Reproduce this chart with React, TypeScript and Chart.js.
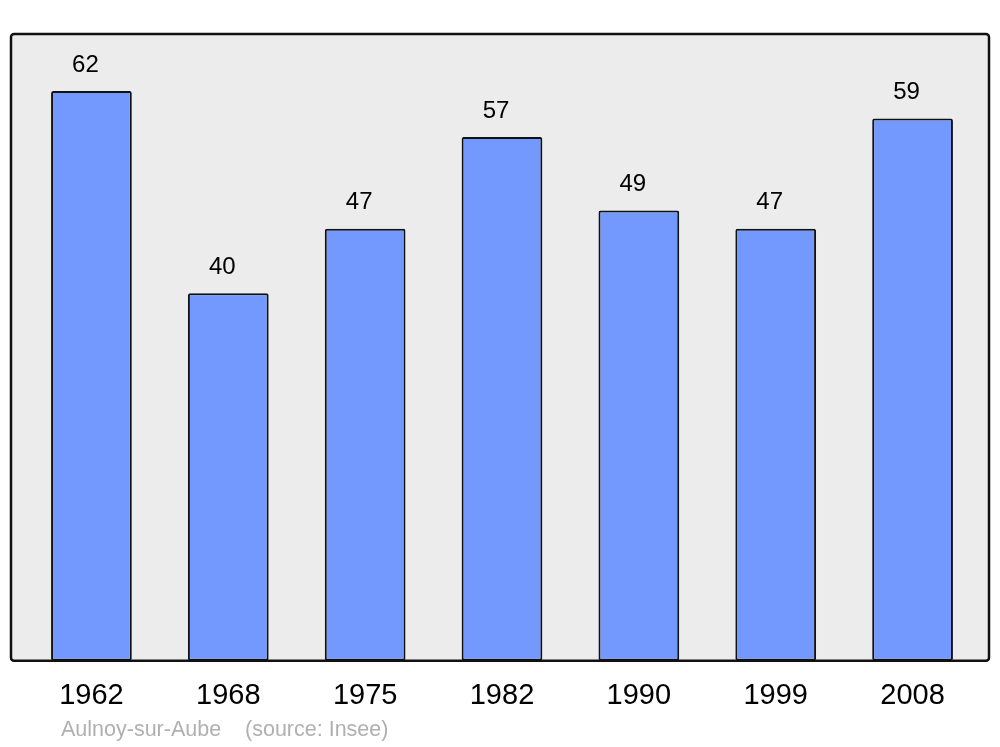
import React, { useEffect, useRef } from "react";
import { Chart, registerables } from "chart.js";

Chart.register(...registerables);

const years: string[] = ["1962", "1968", "1975", "1982", "1990", "1999", "2008"];
const population: number[] = [62, 40, 47, 57, 49, 47, 59];
const footerText = "Aulnoy-sur-Aube    (source: Insee)";

const FONT = "'Liberation Sans', Arial, sans-serif";

const boxPlugin = {
  id: "boxPlugin",
  beforeDatasetsDraw(chart: any) {
    const { ctx, chartArea } = chart;
    const x0 = chartArea.left - 12;
    const x1 = chartArea.right + 8;
    ctx.save();
    ctx.beginPath();
    ctx.roundRect(x0, chartArea.top, x1 - x0, chartArea.bottom - chartArea.top, 3);
    ctx.fillStyle = "#ececec";
    ctx.fill();
    ctx.restore();
  },
  afterDatasetsDraw(chart: any) {
    const { ctx, chartArea } = chart;
    const x0 = chartArea.left - 12;
    const x1 = chartArea.right + 8;
    ctx.save();
    ctx.beginPath();
    ctx.roundRect(x0, chartArea.top, x1 - x0, chartArea.bottom - chartArea.top, 3);
    ctx.strokeStyle = "#111";
    ctx.lineWidth = 2.5;
    ctx.stroke();
    // value labels
    const meta = chart.getDatasetMeta(0);
    ctx.fillStyle = "#000";
    ctx.font = `24px ${FONT}`;
    ctx.textAlign = "center";
    ctx.textBaseline = "middle";
    meta.data.forEach((bar: any, i: number) => {
      ctx.fillText(String(population[i]), bar.x - 6, bar.y - 26);
    });
    // footer
    ctx.fillStyle = "#b0b0b0";
    ctx.font = `21.5px ${FONT}`;
    ctx.textAlign = "left";
    ctx.fillText(footerText, 61, 730);
    ctx.restore();
  },
};

export default function App() {
  const ref = useRef<HTMLCanvasElement | null>(null);
  useEffect(() => {
    if (!ref.current) return;
    const chart = new Chart(ref.current, {
      type: "bar",
      data: {
        labels: years,
        datasets: [
          {
            data: population,
            backgroundColor: "#7399ff",
            borderColor: "#111",
            borderWidth: 2,
            borderRadius: 2,
            borderSkipped: false,
            barPercentage: 0.59,
            categoryPercentage: 1,
          },
        ],
      },
      plugins: [boxPlugin],
      options: {
        animation: false,
        responsive: false,
        maintainAspectRatio: false,
        layout: { padding: { left: 23, right: 19, top: 34, bottom: 15 } },
        plugins: { legend: { display: false }, tooltip: { enabled: false } },
        scales: {
          x: {
            grid: { display: false, drawTicks: false },
            border: { display: false },
            ticks: {
              color: "#000",
              font: { size: 29, family: FONT },
              padding: 18.2,
              maxRotation: 0,
            },
          },
          y: { display: false, min: 0, max: 68.2 },
        },
      },
    });
    return () => chart.destroy();
  }, []);
  return (
    <div style={{ position: "fixed", left: 0, top: 0, width: 1000, height: 747, background: "#fff" }}>
      <canvas ref={ref} width={1000} height={747} style={{ width: 1000, height: 747 }} />
    </div>
  );
}
